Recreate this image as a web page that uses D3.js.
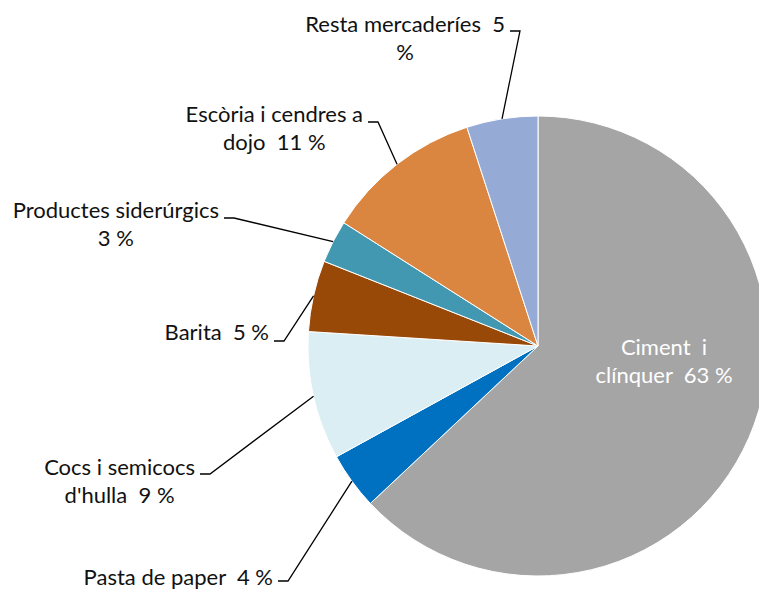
<!DOCTYPE html>
<html>
<head>
<meta charset="utf-8">
<script src="https://cdn.jsdelivr.net/npm/d3@7"></script>
<style>
  body { margin: 0; background: #fff; }
  svg text { font-family: Lato, "Open Sans", sans-serif; white-space: pre; }
</style>
</head>
<body>
<div class="pieChart"></div>
<script>
// slice data, clockwise from 12 o'clock
var categories = ["Ciment i clínquer", "Pasta de paper", "Cocs i semicocs d'hulla", "Barita",
                  "Productes siderúrgics", "Escòria i cendres a dojo", "Resta mercaderíes"];
var values = [63, 4, 9, 5, 3, 11, 5];
// how each label wraps (lines as shown in chart)
var labelLines = [
    ["Ciment  i", "clínquer  63 %"],
    ["Pasta de paper  4 %"],
    ["Cocs i semicocs", "d'hulla  9 %"],
    ["Barita  5 %"],
    ["Productes siderúrgics", "3 %"],
    ["Escòria i cendres a", "dojo  11 %"],
    ["Resta mercaderíes  5", "%"]
];
var colors = ["#a5a5a5", "#0070c0", "#daeef3", "#984807", "#4298b0", "#da8540", "#95abd5"];

// label box: right edge x, first baseline y, leader y
var labelPos = [
    null,
    {x: 273, y: 585, ly: 581},
    {x: 195, y: 475, ly: 474},
    {x: 269, y: 340, ly: 341},
    {x: 219, y: 218, ly: 218},
    {x: 363, y: 122, ly: 122},
    {x: 505, y: 32, ly: 31}
];

function init(){
    var w = 759, h = 590;
    var cx = 538, cy = 346, r = 230;
    var lineH = 28;
    var fs = 22;

    var svg = d3.select(".pieChart")
                .append("svg")
                .attr("width", w)
                .attr("height", h);

    var pie = d3.pie().sort(null).value(function(d){ return d; });
    var arcs = pie(values);
    var arc = d3.arc().innerRadius(0).outerRadius(r);

    var g = svg.append("g").attr("transform", "translate(" + cx + "," + cy + ")");

    g.selectAll("path")
        .data(arcs)
        .enter()
        .append("path")
        .attr("d", arc)
        .attr("fill", function(d, i){ return colors[i]; })
        .attr("stroke", "#fff")
        .attr("stroke-width", 1);

    // inside label for the big slice
    var inside = svg.append("text")
        .attr("fill", "#fff")
        .attr("font-size", fs)
        .attr("text-anchor", "middle");
    labelLines[0].forEach(function(t, j){
        inside.append("tspan")
            .attr("x", 664)
            .attr("y", 355 + j * lineH)
            .text(t);
    });

    // outside labels with leaders
    arcs.forEach(function(a, i){
        if (i === 0) return;
        var p = labelPos[i];
        var mid = (a.startAngle + a.endAngle) / 2;
        var ex = cx + r * Math.sin(mid), ey = cy - r * Math.cos(mid);

        svg.append("polyline")
            .attr("points", [[ex, ey], [p.x + 15, p.ly], [p.x + 5, p.ly]].map(function(q){ return q.join(","); }).join(" "))
            .attr("fill", "none")
            .attr("stroke", "#000")
            .attr("stroke-width", 1.3);

        var txt = svg.append("text")
            .attr("fill", "#111")
            .attr("font-size", fs)
            .attr("text-anchor", "middle");
        var spans = labelLines[i].map(function(t, j){
            return txt.append("tspan").attr("y", p.y + j * lineH).text(t);
        });
        var bw = d3.max(spans, function(s){ return s.node().getComputedTextLength(); });
        spans.forEach(function(s){ s.attr("x", p.x - bw / 2); });
    });
}
window.onload = init;
</script>
</body>
</html>
